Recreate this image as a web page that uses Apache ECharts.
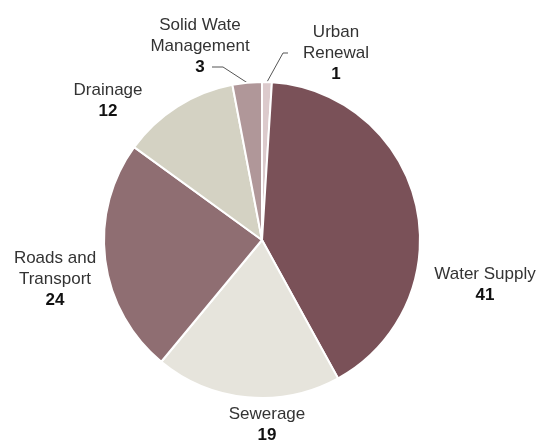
<!DOCTYPE html>
<html>
<head>
<meta charset="utf-8">
<script src="https://cdn.jsdelivr.net/npm/echarts@6/dist/echarts.min.js"></script>
<style>
  html, body { margin: 0; padding: 0; background: #fff; }
  #chart { width: 543px; height: 441px; }
</style>
</head>
<body>
<div id="chart"></div>
<script>
// slices, clockwise from 12 o'clock
const categories = ['Urban\nRenewal', 'Water Supply', 'Sewerage', 'Roads and\nTransport', 'Drainage', 'Solid Wate\nManagement'];
const values = [1, 41, 19, 24, 12, 3];
const colors = ['#dccacc', '#7a5158', '#e6e4dc', '#8f6e72', '#d4d2c3', '#b09799'];

// where each label block sits (center of block)
const labelPos = [[336, 53], [485, 285], [267, 425], [55, 279], [108, 101], [200, 46]];

const chart = echarts.init(document.getElementById('chart'));

const option = {
  animation: false,
  series: [
    {
      type: 'pie',
      center: [262, 240],
      radius: 158,
      startAngle: 90,
      clockwise: true,
      avoidLabelOverlap: false,
      itemStyle: { borderColor: '#fff', borderWidth: 2 },
      label: {
        show: true,
        position: 'outside',
        fontFamily: '"Liberation Sans", Arial, sans-serif',
        formatter: function (p) {
          const lines = p.name.split('\n').map(s => '{n|' + s + '}');
          lines.push('{v|' + p.value + '}');
          return lines.join('\n');
        },
        rich: {
          n: { fontSize: 17, color: '#333', lineHeight: 21, fontFamily: '"Liberation Sans", Arial, sans-serif' },
          v: { fontSize: 17, color: '#111', fontWeight: 'bold', lineHeight: 21, fontFamily: '"Liberation Sans", Arial, sans-serif' }
        }
      },
      labelLine: { show: false, lineStyle: { color: '#555', width: 1 } },
      labelLayout: function (params) {
        const i = params.dataIndex;
        const pos = labelPos[i];
        const out = { x: pos[0], y: pos[1], align: 'center', verticalAlign: 'middle' };
        const p0 = params.labelLinePoints ? params.labelLinePoints[0] : null;
        if (i === 5 && p0) {
          out.labelLinePoints = [p0, [pos[0] + 23, 67], [pos[0] + 12, 67]];
        }
        if (i === 0 && p0) {
          out.labelLinePoints = [p0, [pos[0] - 53, 53], [pos[0] - 48, 53]];
        }
        return out;
      },
      data: categories.map((name, i) => ({
        name: name,
        value: values[i],
        itemStyle: { color: colors[i] },
        labelLine: { show: i === 0 || i === 5 }
      }))
    }
  ]
};

chart.setOption(option);
</script>
</body>
</html>
